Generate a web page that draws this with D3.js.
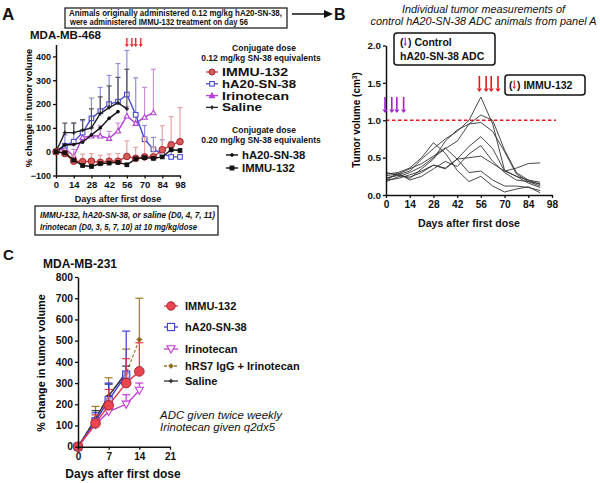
<!DOCTYPE html>
<html>
<head>
<meta charset="utf-8">
<script src="https://cdn.jsdelivr.net/npm/d3@7"></script>
<style>
  body { margin: 0; background: #fff; }
  svg { font-family: "Liberation Sans", Arial, sans-serif; }
</style>
</head>
<body>
<svg id="fig" width="600" height="483"></svg>
<script>
// --- painel A: MDA-MB-468 (% de variacao) ---
const daysA = [0, 7, 14, 21, 28, 35, 42, 49, 56, 63, 70, 77, 84, 91, 98];
const immu012 = [0, -8, -40, -42, -40, -45, -40, -40, -20, -28, -22, -22, 8, 28, 42];
const immu012Up = [null, 5, -15, -10, -8, -15, -10, -8, 45, 18, 60, 20, 109, 147, 185];
const ha20012 = [0, 25, 42, 80, 140, 170, 200, 210, 240, 155, 52, 10, -8, -22, -22];
const ha20012Up = [null, 70, 120, 130, 225, 270, 320, 370, 425, 310, 110, 60, 50, 42, null];
const irino = [0, 15, -20, 60, 66, 66, 56, 87, 150, 119, 145, 164];
const irinoUp = [null, 30, 10, 90, 100, 110, 85, 120, 190, 160, 270, 346];
const salineA = [0, 80, 80, 90, 100, 160, 185, 205, 180];
const salineAUp = [null, 120, 120, 135, 180, 230, 276, 312, 346];
const ha20020 = [0, 28, 30, 40, 70, 100, 140, 168];
const immu020 = [0, -5, -35, -58, -62, -50, -48, -45, -55, -30, -25, -28, -22, 8, 5];
const ticksA = [-100, 0, 100, 200, 300, 400];
const ticksDays = [0, 14, 28, 42, 56, 70, 84, 98];
const immuDosesA = [56, 60, 63, 67];

// --- painel B: volumes individuais (cm3) ---
const daysB = [0, 7, 14, 21, 28, 35, 42, 49, 56, 63, 70, 77, 84, 91];
const mouse1 = [0.22, 0.27, 0.32, 0.48, 0.62, 0.75, 0.85, 1.0, 1.31, 0.95, 0.33, 0.25, 0.16, 0.1];
const mouse2 = [0.18, 0.24, 0.3, 0.38, 0.5, 0.62, 0.72, 0.95, 1.07, 1.0, 0.6, 0.3, 0.2, 0.14];
const mouse3 = [0.28, 0.3, 0.36, 0.5, 0.7, 0.56, 0.33, 0.18, 0.25, 0.12, 0.04, 0.08, 0.11, 0.03];
const mouse4 = [0.26, 0.28, 0.35, 0.42, 0.52, 0.63, 0.48, 0.3, 0.32, 0.2, 0.12, 0.12, 0.1, 0.06];
const mouse5 = [0.2, 0.22, 0.27, 0.32, 0.4, 0.35, 0.48, 0.5, 0.52, 0.42, 0.32, 0.36, 0.42, 0.43];
const mouse6 = [0.23, 0.26, 0.24, 0.3, 0.4, 0.36, 0.48, 0.65, 0.78, 0.62, 0.32, 0.25, 0.2, 0.17];
const mouse7 = [0.3, 0.27, 0.22, 0.35, 0.48, 0.72, 0.87, 0.95, 0.97, 0.85, 0.58, 0.28, 0.18, 0.15];
const mouse8 = [0.19, 0.3, 0.2, 0.25, 0.35, 0.45, 0.38, 0.55, 0.66, 0.45, 0.3, 0.2, 0.18, 0.12];
const ticksB = [0, 0.5, 1.0, 1.5, 2.0];
const controlDosesB = [0, 4, 7, 11];
const immuDosesB = [56, 60, 63, 67];
const thresholdB = 1.0;

// --- painel C: MDA-MB-231 ---
const daysC = [0, 4, 7, 11, 14];
const immuC = [0, 110, 195, 300, 355];
const immuCUp = [null, 150, 270, 415, 490];
const ha20C = [0, 120, 220, 340];
const ha20CUp = [null, 160, 300, 545];
const irinoC = [0, 105, 165, 200, 265];
const irinoCUp = [null, 125, 190, 245, 300];
const hrs7C = [0, 135, 240, 345, 505];
const hrs7CUp = [null, 190, 325, 460, 700];
const salineC = [0, 130, 240, 350];
const salineCUp = [null, 170, 295, 380];
const ticksC = [0, 100, 200, 300, 400, 500, 600, 700, 800];
const ticksDaysC = [0, 7, 14, 21];

const d3 = window.d3;
const svg = d3.select("#fig");
const BLACK = "#111";

function styleAxis(g, fs) {
  g.select(".domain").attr("stroke", BLACK).attr("stroke-width", 1.5);
  g.selectAll(".tick line").attr("stroke", BLACK).attr("stroke-width", 1.3);
  g.selectAll("text").attr("font-size", fs).attr("font-weight", "bold").attr("fill", BLACK).attr("font-family", null);
}

function txt(g, x, y, s, o = {}) {
  const t = g
    .append("text")
    .attr("x", x)
    .attr("y", y)
    .attr("font-size", o.size || 10)
    .attr("font-weight", o.weight || "bold")
    .attr("font-style", o.style || null)
    .attr("text-anchor", o.anchor || "start")
    .attr("fill", o.fill || BLACK)
    .text(s);
  if (o.len) {
    t.attr("textLength", o.len).attr("lengthAdjust", "spacingAndGlyphs");
  }
  return t;
}

// seta vertical com ponta triangular
function downArrow(g, x, y0, y1, color, w) {
  const hw = w * 1.6;
  const hh = w * 2.2;
  g.append("line").attr("x1", x).attr("x2", x).attr("y1", y0).attr("y2", y1 - hh).attr("stroke", color).attr("stroke-width", w);
  g.append("path").attr("d", `M${x - hw},${y1 - hh} L${x + hw},${y1 - hh} L${x},${y1} Z`).attr("fill", color);
}

function marker(g, type, x, y, size, stroke, fill) {
  if (type === "circle") {
    g.append("circle").attr("cx", x).attr("cy", y).attr("r", size).attr("fill", fill).attr("stroke", stroke).attr("stroke-width", 1);
  } else if (type === "square") {
    g.append("rect").attr("x", x - size).attr("y", y - size).attr("width", size * 2).attr("height", size * 2)
      .attr("fill", fill).attr("stroke", stroke).attr("stroke-width", 1.1);
  } else if (type === "triUp") {
    g.append("path").attr("d", `M${x},${y - size} L${x + size},${y + size * 0.8} L${x - size},${y + size * 0.8} Z`)
      .attr("fill", fill).attr("stroke", stroke).attr("stroke-width", 1.1);
  } else if (type === "triDown") {
    g.append("path").attr("d", `M${x - size},${y - size * 0.8} L${x + size},${y - size * 0.8} L${x},${y + size} Z`)
      .attr("fill", fill).attr("stroke", stroke).attr("stroke-width", 1.1);
  } else if (type === "diamond") {
    g.append("path").attr("d", `M${x},${y - size} L${x + size},${y} L${x},${y + size} L${x - size},${y} Z`)
      .attr("fill", fill).attr("stroke", stroke).attr("stroke-width", 0.8);
  } else if (type === "plus") {
    g.append("path").attr("d", `M${x - size},${y} L${x + size},${y} M${x},${y - size} L${x},${y + size}`)
      .attr("stroke", stroke).attr("stroke-width", 1.4);
    g.append("circle").attr("cx", x).attr("cy", y).attr("r", size * 0.45).attr("fill", stroke);
  }
}

function series(g, x, y, days, vals, up, o) {
  const pts = vals.map((v, i) => [days[i], v, up ? up[i] : null]);
  if (up) {
    pts.filter((p) => p[2] != null).forEach((p) => {
      g.append("line").attr("x1", x(p[0])).attr("x2", x(p[0])).attr("y1", y(p[1])).attr("y2", y(p[2]))
        .attr("stroke", o.errColor || o.color).attr("stroke-width", 1.2);
      g.append("line").attr("x1", x(p[0]) - o.cap).attr("x2", x(p[0]) + o.cap).attr("y1", y(p[2])).attr("y2", y(p[2]))
        .attr("stroke", o.errColor || o.color).attr("stroke-width", 1.2);
    });
  }
  g.append("path")
    .attr("d", d3.line().x((p) => x(p[0])).y((p) => y(p[1]))(pts))
    .attr("fill", "none")
    .attr("stroke", o.color)
    .attr("stroke-width", o.width || 1.4)
    .attr("stroke-dasharray", o.dash || null);
  pts.forEach((p) => marker(g, o.marker, x(p[0]), y(p[1]), o.size, o.mStroke || o.color, o.mFill || o.color));
}

// ================= PAINEL A =================
const gA = svg.append("g");
const xA = d3.scaleLinear().domain([0, 98]).range([56, 180]);
const yA = d3.scaleLinear().domain([-100, 450]).range([175.5, 44.5]);

txt(gA, 2, 20, "A", { size: 17 });
gA.append("rect").attr("x", 65).attr("y", 8).attr("width", 222).attr("height", 20)
  .attr("fill", "none").attr("stroke", BLACK).attr("stroke-width", 1.2);
txt(gA, 69, 16, "Animals originally administered 0.12 mg/kg hA20-SN-38,", { size: 8.4, len: 213 });
txt(gA, 70, 25, "were administered IMMU-132 treatment on day 56", { size: 8.4, len: 178 });
gA.append("line").attr("x1", 292).attr("x2", 326).attr("y1", 14).attr("y2", 14).attr("stroke", BLACK).attr("stroke-width", 1.6);
gA.append("path").attr("d", "M324,10 L333,14 L324,18 Z").attr("fill", BLACK);

txt(gA, 30, 39, "MDA-MB-468", { size: 11.5 });

gA.append("g").attr("transform", "translate(56,0)")
  .call(d3.axisLeft(yA).tickValues(ticksA).tickSize(3).tickSizeOuter(0).tickPadding(2))
  .call((g) => styleAxis(g, 9));
gA.append("g").attr("transform", "translate(0,175.5)")
  .call(d3.axisBottom(xA).tickValues(ticksDays).tickSize(3).tickSizeOuter(0).tickPadding(3))
  .call((g) => styleAxis(g, 9.5));

gA.append("text").attr("transform", "translate(32,108) rotate(-90)").attr("text-anchor", "middle")
  .attr("font-size", 9.3).attr("font-weight", "bold").text("% change in tumor volume");
txt(gA, 118, 202, "Days after first dose", { size: 9, anchor: "middle" });

// linhas (barras de erro em tom claro por baixo)
series(gA, xA, yA, daysA, irino, irinoUp, { color: "#b53fd6", errColor: "#cc8ce0", marker: "triUp", size: 2.6, mFill: "#fff", cap: 2.5 });
series(gA, xA, yA, daysA, ha20012, ha20012Up, { color: "#4b4bd1", errColor: "#8d8de0", marker: "square", size: 2.3, mFill: "#fff", cap: 2.5 });
series(gA, xA, yA, daysA, salineA, salineAUp, { color: "#222", errColor: "#555", marker: "plus", size: 2, cap: 2.5 });
series(gA, xA, yA, daysA, ha20020, null, { color: "#111", marker: "circle", size: 1.4, cap: 2.5 });
series(gA, xA, yA, daysA, immu012, immu012Up, { color: "#c9383c", errColor: "#e9a2a2", marker: "circle", size: 3.3, mFill: "#d95858", mStroke: "#a3262a", cap: 2.5 });
series(gA, xA, yA, daysA, immu020, null, { color: "#111", marker: "square", size: 1.8, mFill: "#111", cap: 2.5 });

immuDosesA.forEach((d) => downArrow(gA, xA(d), 38, 47, "#e8191c", 1.3));

// legenda A (largura medida na referencia, altura contida p/ nao sobrepor)
txt(gA, 264, 51, "Conjugate dose", { size: 8.5, anchor: "middle" });
txt(gA, 261, 61, "0.12 mg/kg SN-38 equivalents", { size: 8.5, anchor: "middle" });
const legA1 = [
  { label: "IMMU-132", w: 66, color: "#c9383c", marker: "circle", mFill: "#d95858", mStroke: "#a3262a", size: 3 },
  { label: "hA20-SN-38", w: 74, color: "#4b4bd1", marker: "square", mFill: "#fff", size: 2.3 },
  { label: "Irinotecan", w: 67, color: "#b53fd6", marker: "triUp", mFill: "#b53fd6", size: 2.6 },
  { label: "Saline", w: 40, color: "#222", marker: "plus", size: 2 },
];
legA1.forEach((d, i) => {
  const y = 72 + i * 11.8;
  gA.append("line").attr("x1", 206).attr("x2", 218).attr("y1", y).attr("y2", y).attr("stroke", d.color).attr("stroke-width", 1.3);
  marker(gA, d.marker, 212, y, d.size, d.mStroke || d.color, d.mFill || d.color);
  txt(gA, 222, y + 4, d.label, { size: 10.6, len: d.w });
});
txt(gA, 264, 133, "Conjugate dose", { size: 8.5, anchor: "middle" });
txt(gA, 261, 143, "0.20 mg/kg SN-38 equivalents", { size: 8.5, anchor: "middle" });
const legA2 = [
  { label: "hA20-SN-38", marker: "circle", size: 1.4 },
  { label: "IMMU-132", marker: "square", size: 1.9 },
];
legA2.forEach((d, i) => {
  const y = 155 + i * 13;
  gA.append("line").attr("x1", 226).attr("x2", 238).attr("y1", y).attr("y2", y).attr("stroke", BLACK).attr("stroke-width", 1.4);
  marker(gA, d.marker, 232, y, d.size, BLACK, BLACK);
  txt(gA, 242, y + 4.2, d.label, { size: 11.3 });
});

gA.append("rect").attr("x", 35).attr("y", 206).attr("width", 183).attr("height", 29)
  .attr("fill", "none").attr("stroke", BLACK).attr("stroke-width", 1.2);
txt(gA, 40, 218, "IMMU-132, hA20-SN-38, or saline (D0, 4, 7, 11)", { size: 8.2, style: "italic", len: 175 });
txt(gA, 40, 230, "Irinotecan (D0, 3, 5, 7, 10) at 10 mg/kg/dose", { size: 8.2, style: "italic", len: 157 });

// ================= PAINEL B =================
const gB = svg.append("g");
const xB = d3.scaleLinear().domain([0, 98]).range([386, 552]);
const yB = d3.scaleLinear().domain([0, 2]).range([195, 45.5]);

txt(gB, 334, 20, "B", { size: 16 });
txt(gB, 483.5, 13, "Individual tumor measurements of", { size: 10, weight: "normal", style: "italic", anchor: "middle", len: 163 });
txt(gB, 483.5, 25, "control hA20-SN-38 ADC animals from panel A", { size: 10, weight: "normal", style: "italic", anchor: "middle", len: 226 });

gB.append("line").attr("x1", 386).attr("x2", 556).attr("y1", yB(thresholdB)).attr("y2", yB(thresholdB))
  .attr("stroke", "#e8191c").attr("stroke-width", 1.3).attr("stroke-dasharray", "3.5,2.5");

[mouse1, mouse2, mouse3, mouse4, mouse5, mouse6, mouse7, mouse8].forEach((m) => {
  gB.append("path")
    .attr("d", d3.line().x((v, i) => xB(daysB[i])).y((v) => yB(v))(m))
    .attr("fill", "none").attr("stroke", "#333").attr("stroke-width", 0.9);
});

gB.append("g").attr("transform", "translate(386,0)")
  .call(d3.axisLeft(yB).tickValues(ticksB).tickFormat(d3.format(".1f")).tickSize(3).tickSizeOuter(0).tickPadding(2))
  .call((g) => styleAxis(g, 9.8));
gB.append("g").attr("transform", "translate(0,195)")
  .call(d3.axisBottom(xB).tickValues(ticksDays).tickSize(3).tickSizeOuter(0).tickPadding(3))
  .call((g) => styleAxis(g, 10.2));

const yLabB = gB.append("text").attr("transform", "translate(360,120) rotate(-90)").attr("text-anchor", "middle")
  .attr("font-size", 10).attr("font-weight", "bold").text("Tumor volume (cm");
yLabB.append("tspan").attr("dy", -3).attr("font-size", 6.5).text("3");
yLabB.append("tspan").attr("dy", 3).text(")");
txt(gB, 469, 227, "Days after first dose", { size: 10.6, anchor: "middle" });

controlDosesB.forEach((d) => downArrow(gB, xB(d) - 1, 97, 113, "#a21fd6", 1.6));
immuDosesB.forEach((d) => downArrow(gB, xB(d) - 1.5, 76, 92, "#e8191c", 1.6));

gB.append("rect").attr("x", 394).attr("y", 33).attr("width", 101).attr("height", 32).attr("rx", 3)
  .attr("fill", "#fff").attr("stroke", BLACK).attr("stroke-width", 1.5);
txt(gB, 400, 46, "(", { size: 10.5 });
downArrow(gB, 405.3, 37.5, 46, "#a21fd6", 1.1);
txt(gB, 408, 46, ") Control", { size: 10.5 });
txt(gB, 400, 59.5, "hA20-SN-38 ADC", { size: 10.5 });
gB.append("rect").attr("x", 505).attr("y", 75).attr("width", 80).attr("height", 20).attr("rx", 3)
  .attr("fill", "#fff").attr("stroke", BLACK).attr("stroke-width", 1.5);
txt(gB, 509, 89, "(", { size: 10.5 });
downArrow(gB, 514.3, 80.5, 89, "#e8191c", 1.1);
txt(gB, 517, 89, ") IMMU-132", { size: 10.5 });

// ================= PAINEL C =================
const gC = svg.append("g");
const xC = d3.scaleLinear().domain([0, 21]).range([78, 170]);
const yC = d3.scaleLinear().domain([0, 800]).range([446.7, 277]);

txt(gC, 3, 260, "C", { size: 15 });
txt(gC, 43, 268, "MDA-MB-231", { size: 12 });

series(gC, xC, yC, daysC, hrs7C, hrs7CUp, { color: "#a0782a", marker: "diamond", size: 2.6, mFill: "#8a6420", cap: 4, dash: "3,2", width: 1.2 });
series(gC, xC, yC, daysC, salineC, salineCUp, { color: "#333", marker: "plus", size: 2.3, cap: 4 });
series(gC, xC, yC, daysC, ha20C, ha20CUp, { color: "#3c3cdc", marker: "square", size: 3.6, mFill: "rgba(200,200,245,0.6)", cap: 4 });
series(gC, xC, yC, daysC, irinoC, irinoCUp, { color: "#c43bd6", marker: "triDown", size: 4, mFill: "#fff", cap: 4 });
series(gC, xC, yC, daysC, immuC, immuCUp, { color: "#e33a44", marker: "circle", size: 4.8, mFill: "#ea4652", mStroke: "#b0202c", cap: 4 });

gC.append("g").attr("transform", "translate(78,0)")
  .call(d3.axisLeft(yC).tickValues(ticksC).tickSize(3).tickSizeOuter(0).tickPadding(2))
  .call((g) => styleAxis(g, 10.3));
gC.append("g").attr("transform", "translate(0,446.7)")
  .call(d3.axisBottom(xC).tickValues(ticksDaysC).tickSize(3).tickSizeOuter(0).tickPadding(3))
  .call((g) => styleAxis(g, 10));

gC.append("text").attr("transform", "translate(45,363) rotate(-90)").attr("text-anchor", "middle")
  .attr("font-size", 10.8).attr("font-weight", "bold").text("% change in tumor volume");
txt(gC, 123, 478, "Days after first dose", { size: 12, anchor: "middle" });

const legC = [
  { label: "IMMU-132", color: "#e33a44", marker: "circle", size: 4.2, mFill: "#ea4652", mStroke: "#b0202c" },
  { label: "hA20-SN-38", color: "#3c3cdc", marker: "square", size: 3.6, mFill: "#fff" },
  { label: "Irinotecan", color: "#c43bd6", marker: "triDown", size: 4, mFill: "#fff" },
  { label: "hRS7 IgG + Irinotecan", color: "#a0782a", marker: "diamond", size: 2.4, mFill: "#8a6420", dash: "3,2" },
  { label: "Saline", color: "#333", marker: "plus", size: 2.3 },
];
const legCy = [306, 327, 349, 366, 381];
legC.forEach((d, i) => {
  const y = legCy[i];
  gC.append("line").attr("x1", 164).attr("x2", 178).attr("y1", y).attr("y2", y).attr("stroke", d.color)
    .attr("stroke-width", 1.3).attr("stroke-dasharray", d.dash || null);
  marker(gC, d.marker, 171, y, d.size, d.mStroke || d.color, d.mFill || d.color);
  txt(gC, 185, y + 4, d.label, { size: 11 });
});
txt(gC, 160, 419, "ADC given twice weekly", { size: 10.5, weight: "normal", style: "italic", len: 122 });
txt(gC, 160, 431, "Irinotecan given q2dx5", { size: 10.5, weight: "normal", style: "italic", len: 115 });
</script>
</body>
</html>
